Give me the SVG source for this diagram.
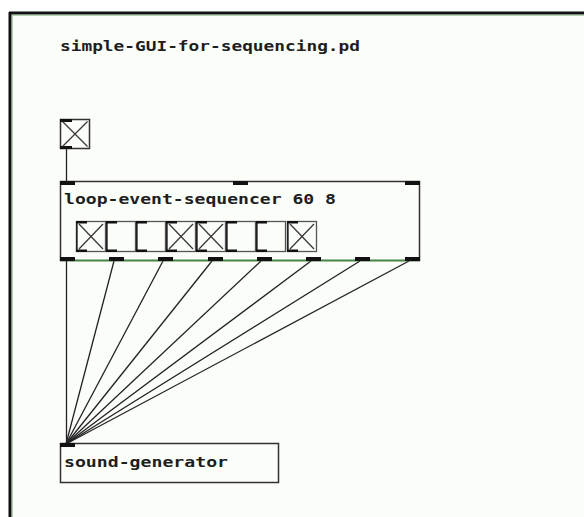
<svg xmlns="http://www.w3.org/2000/svg" width="584" height="517" viewBox="0 0 584 517">
<style>
.box{fill:none;stroke:#333;stroke-width:1.5}
.io{fill:#111}
.lbl{font-family:"DejaVu Sans Mono","Liberation Mono",monospace;font-weight:bold;font-size:14px;fill:#1e1e1e}
.tg{fill:none;stroke:#555;stroke-width:1.3}
.x{stroke:#3a3a3a;stroke-width:1.3}
.wire{stroke:#222;stroke-width:1.3;fill:none}
</style>
<defs>
<g id="tgl">
<rect class="tg" x="0.5" y="0.5" width="29" height="30"/>
<line x1="0.8" y1="0" x2="0.8" y2="31" stroke="#222" stroke-width="1.7"/>
<rect class="io" x="0" y="0" width="11" height="2.5"/>
<rect class="io" x="0" y="28.5" width="11" height="2.5"/>
</g>
<g id="xx">
<line class="x" x1="3" y1="3" x2="27" y2="28"/>
<line class="x" x1="27" y1="3" x2="3" y2="28"/>
</g>
</defs>
<rect x="0" y="0" width="584" height="517" fill="#ffffff"/>
<rect x="10" y="13" width="574" height="504" fill="#fbfdf9"/>
<line x1="9" y1="13" x2="584" y2="13" stroke="#111" stroke-width="3"/>
<line x1="10" y1="12" x2="10" y2="517" stroke="#111" stroke-width="3"/>
<line x1="12" y1="15.5" x2="584" y2="15.5" stroke="#9c9" stroke-width="0.8"/>
<line x1="12.5" y1="15" x2="12.5" y2="517" stroke="#9c9" stroke-width="0.8"/>

<g id="title"><text class="lbl" x="60" y="51" textLength="300" lengthAdjust="spacingAndGlyphs">simple-GUI-for-sequencing.pd</text></g>

<g id="connectors">
<line class="wire" x1="66.5" y1="149" x2="66.5" y2="182"/>
<line class="wire" x1="66.5" y1="261" x2="66.5" y2="444"/>
<line class="wire" x1="114" y1="261" x2="66" y2="444"/>
<line class="wire" x1="163" y1="261" x2="66" y2="444"/>
<line class="wire" x1="212" y1="261" x2="66" y2="444"/>
<line class="wire" x1="261" y1="261" x2="66" y2="444"/>
<line class="wire" x1="311" y1="261" x2="66" y2="444"/>
<line class="wire" x1="360" y1="261" x2="66" y2="444"/>
<line class="wire" x1="409" y1="261" x2="66" y2="444"/>
</g>

<g id="toggle">
<rect class="box" x="60.5" y="119.5" width="29" height="29"/>
<rect class="io" x="60" y="119" width="12" height="3"/>
<rect class="io" x="60" y="146" width="12" height="3"/>
<line class="x" x1="62.5" y1="121.5" x2="87.5" y2="146.5"/>
<line class="x" x1="87.5" y1="121.5" x2="62.5" y2="146.5"/>
</g>

<g id="loop-event-sequencer">
<rect class="box" x="60.5" y="181.5" width="359" height="79"/>
<line x1="60" y1="260.5" x2="420" y2="260.5" stroke="#3d8b3d" stroke-width="1.4"/>
<rect class="io" x="60" y="181" width="15" height="4"/>
<rect class="io" x="233" y="181" width="15" height="4"/>
<rect class="io" x="405" y="181" width="15" height="4"/>
<rect class="io" x="60" y="257" width="15" height="4"/>
<rect class="io" x="109" y="257" width="15" height="4"/>
<rect class="io" x="158" y="257" width="15" height="4"/>
<rect class="io" x="208" y="257" width="15" height="4"/>
<rect class="io" x="257" y="257" width="15" height="4"/>
<rect class="io" x="306" y="257" width="15" height="4"/>
<rect class="io" x="355" y="257" width="15" height="4"/>
<rect class="io" x="405" y="257" width="15" height="4"/>
<text class="lbl" x="64" y="204" textLength="272" lengthAdjust="spacingAndGlyphs">loop-event-sequencer 60 8</text>
<use href="#tgl" x="76" y="221"/><use href="#xx" x="76" y="221"/>
<use href="#tgl" x="106" y="221"/>
<use href="#tgl" x="136" y="221"/>
<use href="#tgl" x="166" y="221"/><use href="#xx" x="166" y="221"/>
<use href="#tgl" x="196" y="221"/><use href="#xx" x="196" y="221"/>
<use href="#tgl" x="226" y="221"/>
<use href="#tgl" x="256" y="221"/>
<use href="#tgl" x="287" y="221"/><use href="#xx" x="287" y="221"/>
</g>

<g id="sound-generator">
<rect class="box" x="60.5" y="443.5" width="218" height="39"/>
<rect class="io" x="60" y="443" width="15" height="4"/>
<text class="lbl" x="64" y="467" textLength="164" lengthAdjust="spacingAndGlyphs">sound-generator</text>
</g>
</svg>
